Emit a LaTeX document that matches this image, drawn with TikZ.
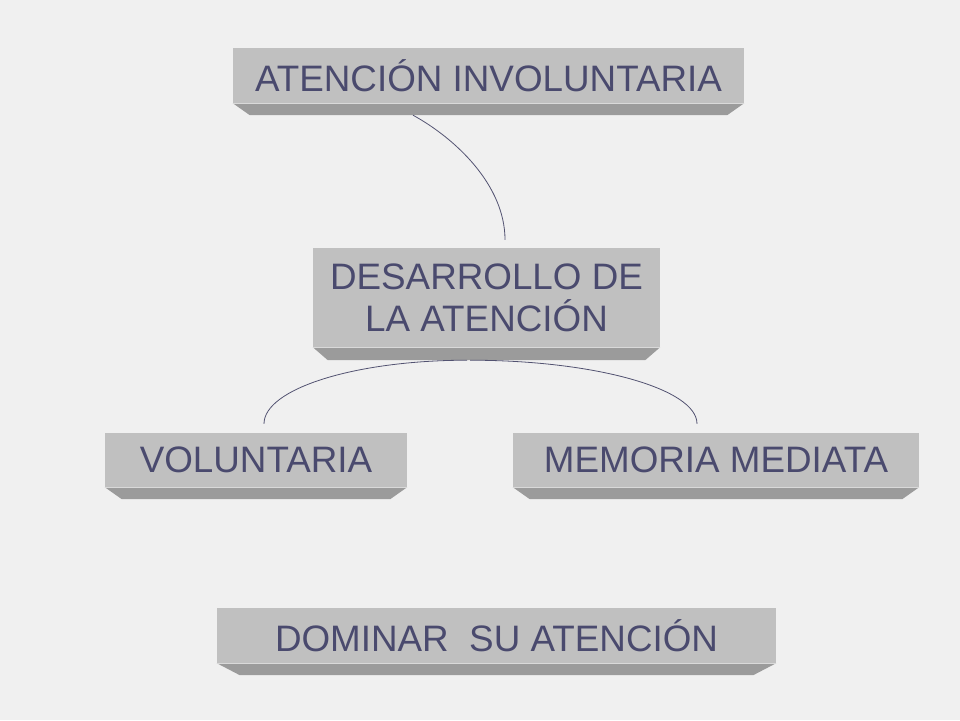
\documentclass[tikz,border=0pt]{standalone}
\usepackage{fontspec}
\setmainfont{Liberation Sans}
\definecolor{boxface}{RGB}{192,192,192}
\definecolor{boxedge}{RGB}{155,155,155}
\definecolor{ink}{RGB}{74,74,110}
\definecolor{paper}{RGB}{240,240,240}
\begin{document}
\begin{tikzpicture}[x=1pt,y=-1pt,
    box/.style={fill=boxface,text=ink,inner sep=0pt,align=center,
        font=\fontsize{36.8}{42}\selectfont},
    link/.style={draw=ink!85!gray,line width=.8pt}]
        \fill[paper] (0,0) rectangle (960,720);
        \useasboundingbox (0,0) rectangle (960,720);

        %% boxes
        \node[box,minimum width=511pt,minimum height=55pt] (inv) at (488.5,75.5) {ATENCIÓN INVOLUNTARIA};
        \node[box,minimum width=347pt,minimum height=99pt] (des) at (486.5,297.5) {DESARROLLO DE\\LA ATENCIÓN};
        \node[box,minimum width=302pt,minimum height=54pt] (vol) at (256,460) {VOLUNTARIA};
        \node[box,minimum width=406pt,minimum height=54pt] (mem) at (716,460) {MEMORIA MEDIATA};
        \node[box,minimum width=559pt,minimum height=55pt] (dom) at (496.5,635.5) {DOMINAR\ \ SU ATENCIÓN};

        %% bevels under the boxes
        \foreach \n/\d/\h in {inv/17/12,des/15/13,vol/17/12,mem/17/12,dom/23/12}{
            \fill[boxedge] (\n.south west) -- (\n.south east)
                -- ([shift={(-\d,\h)}]\n.south east) -- ([shift={(\d,\h)}]\n.south west) -- cycle;
            \draw[boxface!60!white,line width=.8pt] (\n.south west) -- (\n.south east);
        }

        %% links
        \draw[link] ([shift={(-75.5,12)}]inv.south) .. controls +(42,23) and +(0,-55) .. ([shift={(18.5,-8)}]des.north);
        \draw[link] ([shift={(-19.5,13)}]des.south) .. controls +(-112,0) and +(0,-35) .. ([shift={(8,-9)}]vol.north);
        \draw[link] ([shift={(-16.5,13)}]des.south) .. controls +(125,0) and +(0,-35) .. ([shift={(-19,-9)}]mem.north);
      \end{tikzpicture}
\end{document}
